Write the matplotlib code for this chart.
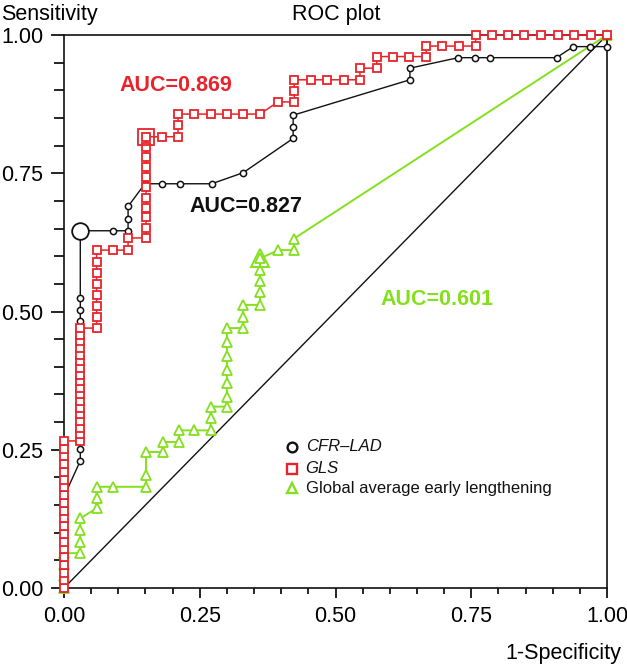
import matplotlib
matplotlib.use("Agg")
import matplotlib.pyplot as plt
from matplotlib.ticker import MultipleLocator, FixedLocator

plt.rcParams['font.family'] = ['Liberation Sans', 'DejaVu Sans']

# ---------------- data ----------------
# CFR-LAD (black circles)
cfr_fpr = [0.0, 0.0, 0.0, 0.0, 0.0, 0.0, 0.0, 0.0, 0.0,
           0.03, 0.03, 0.03, 0.03, 0.03, 0.03, 0.03, 0.03, 0.03, 0.03, 0.03, 0.03, 0.03, 0.03, 0.03, 0.03,
           0.09, 0.118, 0.118, 0.118, 0.149, 0.18, 0.214, 0.272, 0.33, 0.422, 0.422, 0.422,
           0.637, 0.637, 0.726, 0.757, 0.785, 0.907, 0.938, 0.969, 1.0, 1.0]
cfr_tpr = [0.0, 0.021, 0.041, 0.062, 0.082, 0.103, 0.124, 0.145, 0.165,
           0.230, 0.251, 0.272, 0.293, 0.314, 0.335, 0.356, 0.377, 0.398, 0.419, 0.440, 0.461, 0.482, 0.503, 0.524, 0.646,
           0.646, 0.646, 0.667, 0.690, 0.731, 0.731, 0.731, 0.731, 0.751, 0.813, 0.834, 0.855,
           0.919, 0.940, 0.959, 0.959, 0.959, 0.959, 0.979, 0.979, 0.979, 1.0]
cfr_cut = (0.03, 0.646)

# GLS (red squares)
gls_fpr = [0.0, 0.0, 0.0, 0.0, 0.0, 0.0, 0.0, 0.0, 0.0, 0.0, 0.0, 0.0, 0.0, 0.0, 0.0, 0.0, 0.0, 0.0, 0.0, 0.0,
           0.03, 0.03, 0.03, 0.03, 0.03, 0.03, 0.03, 0.03, 0.03, 0.03, 0.03, 0.03, 0.03, 0.03, 0.03, 0.03, 0.03, 0.03,
           0.06, 0.06, 0.06, 0.06, 0.06, 0.06, 0.06, 0.06,
           0.09, 0.118, 0.118,
           0.151, 0.151, 0.151, 0.151, 0.151, 0.151, 0.151, 0.151, 0.151, 0.151, 0.151,
           0.18, 0.21, 0.21, 0.21,
           0.24, 0.27, 0.30, 0.33, 0.361, 0.394, 0.424, 0.424, 0.424,
           0.455, 0.485, 0.515, 0.545, 0.545, 0.576, 0.576,
           0.606, 0.636, 0.667, 0.667, 0.697, 0.727, 0.758, 0.758,
           0.788, 0.818, 0.848, 0.879, 0.909, 0.939, 0.970, 1.0]
gls_tpr = [0.0, 0.014, 0.028, 0.042, 0.056, 0.070, 0.084, 0.098, 0.112, 0.126, 0.140, 0.154, 0.168, 0.182, 0.196,
           0.210, 0.224, 0.238, 0.252, 0.266,
           0.266, 0.278, 0.290, 0.302, 0.314, 0.326, 0.338, 0.350, 0.362, 0.374, 0.386, 0.398, 0.410, 0.422, 0.434,
           0.446, 0.458, 0.470,
           0.470, 0.490, 0.510, 0.530, 0.550, 0.570, 0.590, 0.611,
           0.611, 0.611, 0.633,
           0.633, 0.651, 0.670, 0.688, 0.706, 0.725, 0.743, 0.761, 0.779, 0.798, 0.816,
           0.816, 0.816, 0.837, 0.857,
           0.857, 0.857, 0.857, 0.857, 0.857, 0.879, 0.879, 0.899, 0.919,
           0.919, 0.919, 0.919, 0.919, 0.940, 0.940, 0.961,
           0.961, 0.961, 0.961, 0.980, 0.980, 0.980, 0.980, 1.0,
           1.0, 1.0, 1.0, 1.0, 1.0, 1.0, 1.0, 1.0]
gls_cut = (0.151, 0.816)

# Global average early lengthening (green triangles)
gael_fpr = [0.0, 0.0, 0.0, 0.0,
            0.03, 0.03, 0.03, 0.03,
            0.06, 0.06, 0.06,
            0.09, 0.151, 0.151, 0.151,
            0.182, 0.182, 0.212, 0.212, 0.24, 0.27, 0.27, 0.27,
            0.30, 0.30, 0.30, 0.30, 0.30, 0.30, 0.30,
            0.33, 0.33, 0.33, 0.361, 0.361, 0.361, 0.361, 0.361,
            0.395, 0.424, 0.424, 1.0]
gael_tpr = [0.0, 0.021, 0.042, 0.063,
            0.063, 0.084, 0.105, 0.126,
            0.144, 0.163, 0.183,
            0.183, 0.183, 0.204, 0.246,
            0.246, 0.264, 0.264, 0.285, 0.285, 0.285, 0.307, 0.328,
            0.328, 0.346, 0.370, 0.395, 0.420, 0.445, 0.470,
            0.470, 0.490, 0.512, 0.512, 0.535, 0.555, 0.575, 0.596,
            0.611, 0.611, 0.632, 1.0]
gael_cut = (0.361, 0.596)

auc_labels = ["AUC=0.869", "AUC=0.827", "AUC=0.601"]
series_names = ["CFR\u2013LAD", "GLS", "Global average early lengthening"]

RED = '#e8232b'
GREEN = '#84e01c'
BLACK = '#111111'
FS = 15.5

# ---------------- figure ----------------
W, H = 627, 666
fig = plt.figure(figsize=(W / 100, H / 100), dpi=100)
ax = fig.add_axes([64 / W, 1 - 588 / H, 543 / W, 553 / H])
ax.set_xlim(0, 1)
ax.set_ylim(0, 1)

# chance line
ax.plot([0, 1], [0, 1], color=BLACK, lw=1.0, zorder=1)

# curves
ax.plot(gael_fpr, gael_tpr, color=GREEN, lw=1.4, marker='^', ms=6.5, mfc='white',
        mec=GREEN, mew=1.3, clip_on=False, zorder=3)
ax.plot(cfr_fpr, cfr_tpr, color=BLACK, lw=1.0, marker='o', ms=4.5, mfc='white',
        mec=BLACK, mew=1.1, clip_on=False, zorder=4)
ax.plot(gls_fpr, gls_tpr, color=RED, lw=1.1, marker='s', ms=5.3, mfc='white',
        mec=RED, mew=1.3, clip_on=False, zorder=5)

# optimal cut-off markers
ax.plot([gael_cut[0]], [gael_cut[1]], marker='^', ms=13, mfc='none', mec=GREEN, mew=1.4, zorder=6)
ax.plot([cfr_cut[0]], [cfr_cut[1]], marker='o', ms=12, mfc='white', mec=BLACK, mew=1.3, zorder=6)
ax.plot([gls_cut[0]], [gls_cut[1]], marker='s', ms=11, mfc='none', mec=RED, mew=1.3, zorder=6)

# AUC annotations
ax.text(0.206, 0.908, auc_labels[0], color=RED, fontsize=FS, fontweight='bold', ha='center', va='center')
ax.text(0.336, 0.690, auc_labels[1], color=BLACK, fontsize=FS, fontweight='bold', ha='center', va='center')
ax.text(0.582, 0.522, auc_labels[2], color=GREEN, fontsize=FS, fontweight='bold', ha='left', va='center')

# legend (manual, inside axes)
leg_y = [0.255, 0.216, 0.180]
leg_m = ['o', 's', '^']
leg_c = [BLACK, RED, GREEN]
leg_style = ['italic', 'italic', 'normal']
for yy, m, c, name, st in zip(leg_y, leg_m, leg_c, series_names, leg_style):
    ax.plot([0.42], [yy], marker=m, ms=7, mfc='white', mec=c, mew=1.7, zorder=6)
    ax.text(0.445, yy, name, fontsize=12, style=st, ha='left', va='center', color=BLACK)

# spines / ticks
for s in ax.spines.values():
    s.set_linewidth(1.2)
    s.set_color(BLACK)
ax.xaxis.set_major_locator(FixedLocator([0, 0.25, 0.5, 0.75, 1.0]))
ax.yaxis.set_major_locator(FixedLocator([0, 0.25, 0.5, 0.75, 1.0]))
ax.xaxis.set_minor_locator(MultipleLocator(0.05))
ax.yaxis.set_minor_locator(MultipleLocator(0.05))
ax.set_xticklabels(['0.00', '0.25', '0.50', '0.75', '1.00'])
ax.set_yticklabels(['0.00', '0.25', '0.50', '0.75', '1.00'])
ax.tick_params(axis='x', which='major', direction='out', length=7.5, width=1.2, labelsize=FS, pad=5.5)
ax.tick_params(axis='x', which='minor', direction='out', length=4, width=1.2)
ax.tick_params(axis='y', which='major', direction='out', length=9.5, width=1.2, labelsize=FS, pad=5.5)
ax.tick_params(axis='y', which='minor', direction='out', length=7, width=1.2)

# axis titles placed like the original
fig.text(1 / W, 1 - 20 / H, "Sensitivity", fontsize=FS, ha='left', va='baseline')
fig.text(336 / W, 1 - 20 / H, "ROC plot", fontsize=FS, ha='center', va='baseline')
fig.text(621 / W, 2 / H, "1-Specificity", fontsize=FS, ha='right', va='bottom')

fig.savefig("out.png", dpi=100)
